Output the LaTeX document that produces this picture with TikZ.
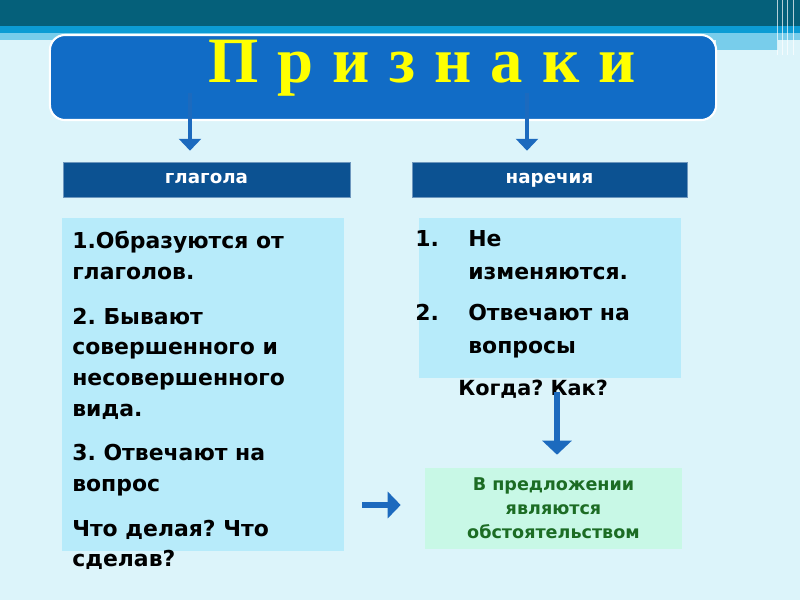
\documentclass[tikz,border=0pt]{standalone}
\usepackage{fontspec}
\setmainfont{DejaVu Sans}
\newfontfamily\headserif{Liberation Serif}
\usetikzlibrary{arrows.meta,positioning,calc}
\frenchspacing
\definecolor{pagebg}{RGB}{220,244,250}
\definecolor{topteal}{RGB}{5,96,122}
\definecolor{topblue}{RGB}{12,156,212}
\definecolor{toplight}{RGB}{120,205,235}
\definecolor{headblue}{RGB}{17,108,198}
\definecolor{barblue}{RGB}{12,82,146}
\definecolor{listcyan}{RGB}{183,235,250}
\definecolor{mint}{RGB}{200,248,230}
\definecolor{leafgreen}{RGB}{28,108,36}
\definecolor{arrowblue}{RGB}{28,106,190}
\definecolor{signyellow}{RGB}{255,255,0}
\newcommand{\gapsign}{\hspace{13.6pt}}

\begin{document}
\begin{tikzpicture}[x=0.025cm, y=-0.025cm,
    headbox/.style={rectangle, draw=white, line width=1.5pt, rounded corners=10.7pt, fill=headblue, minimum width=16.65cm, minimum height=2.125cm},
    catbar/.style={rectangle, draw=barblue!60!white, fill=barblue, minimum height=0.875cm, inner sep=0pt, text height=0.55em, text depth=0pt, text=white, font=\bfseries\fontsize{13}{15}\selectfont},
    listbox/.style={rectangle, fill=listcyan, inner sep=0pt},
    listtext/.style={align=left, inner sep=0pt, font=\bfseries\fontsize{15.6}{21.8}\selectfont},
    resultbox/.style={rectangle, fill=mint, inner sep=0pt, minimum width=6.425cm, minimum height=2.025cm, align=center, text=leafgreen, font=\bfseries\fontsize{12.5}{17}\selectfont},
    blockarrow/.style={draw=arrowblue, line width=3.2pt, -{Triangle[width=15.6pt, length=8.5pt]}},
    bigarrow/.style={draw=arrowblue, line width=4.3pt, -{Triangle[width=20.6pt, length=10pt]}},
    sidearrow/.style={draw=arrowblue, line width=3.6pt, -{Triangle[width=18.5pt, length=9.2pt]}}
  ]
    \useasboundingbox (0,0) rectangle (800,600);
    % slide background
    \fill[pagebg] (0,0) rectangle (800,600);
    \fill[topteal] (0,0) rectangle (800,26);
    \fill[topblue] (0,26) rectangle (800,33);
    \fill[toplight] (0,33) rectangle (800,40);
    \fill[toplight] (716,40) rectangle (778,50);
    \foreach \lx in {777,782,787,793}
      \draw[white, opacity=0.7, line width=0.6pt] (\lx,0) -- (\lx,55);

    \node[headbox] (title) at (383,77.5) {};
    \node[anchor=base, inner sep=0pt, text=signyellow, font=\headserif\bfseries\fontsize{46}{50}\selectfont] (signs) at (422,82) {П\gapsign р\gapsign и\gapsign з\gapsign н\gapsign а\gapsign к\gapsign и};

    \node[catbar, minimum width=7.175cm] (glagol) at (206.5,179.5) {глагола};
    \node[catbar, minimum width=6.875cm] (narech) at (549.5,179.5) {наречия};

    \node[listbox, minimum width=7.05cm, minimum height=8.325cm] (lbox) at (203,384.5) {};
    \node[listbox, minimum width=6.55cm, minimum height=4cm] (rbox) at (550,298) {};

    \node[listtext, anchor=north west] (gtext) at (72,231) {1.Образуются от\\глаголов.\\[10pt]2. Бывают\\совершенного и\\несовершенного\\вида.\\[10pt]3. Отвечают на\\вопрос\\[10pt]Что делая? Что\\сделав?};
    \node[listtext, anchor=north west, font=\bfseries\fontsize{15.6}{23.5}\selectfont] (ntext) at (415,230) {\makebox[37.7pt][l]{1.}Не\\\hspace*{37.7pt}изменяются.\\[6pt]\makebox[37.7pt][l]{2.}Отвечают на\\\hspace*{37.7pt}вопросы};
    \node[listtext, anchor=base west, font=\bfseries\fontsize{14.8}{18}\selectfont] (kogda) at (458,395) {Когда? Как?};

    \node[resultbox] (gbox) at (553.5,508.5) {В предложении\\являются\\обстоятельством};

    \coordinate (gstem) at (190,93);
    \coordinate (nstem) at (527,93);
    \coordinate (kstem) at (557,392);
    \coordinate (hstem) at (362,505);

    \draw[blockarrow, shorten >=0.275cm] (gstem) -- (gstem |- glagol.north);
    \draw[blockarrow, shorten >=0.275cm] (nstem) -- (nstem |- narech.north);
    \draw[bigarrow, shorten >=0.325cm] (kstem) -- (kstem |- gbox.north);
    \draw[sidearrow, shorten >=0.6cm] (hstem) -- (hstem -| gbox.west);
  \end{tikzpicture}
\end{document}
